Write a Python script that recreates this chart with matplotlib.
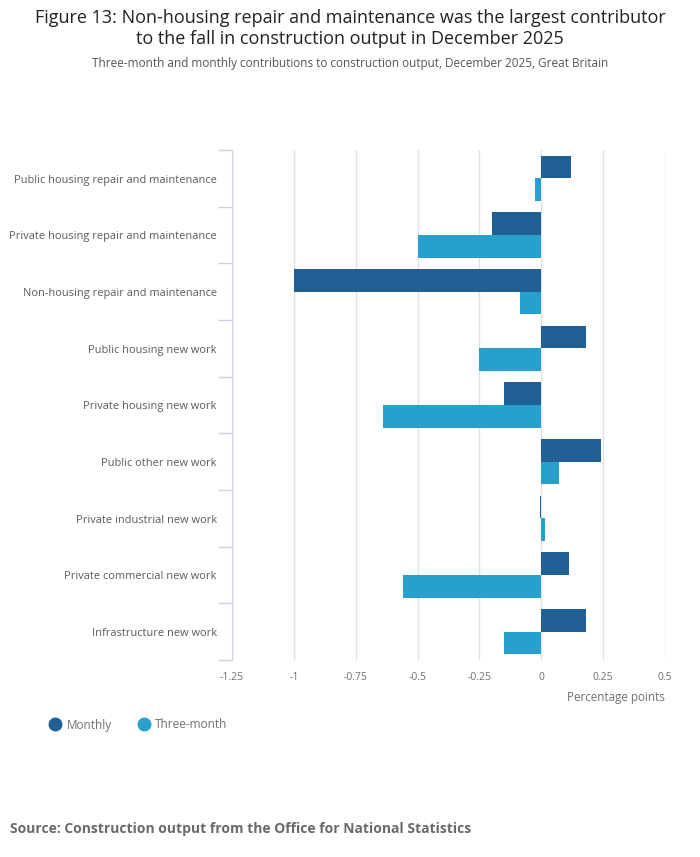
import numpy as np
import matplotlib.pyplot as plt
from matplotlib.lines import Line2D

plt.rcParams['font.family'] = ['Open Sans', 'DejaVu Sans']

categories = [
    "Public housing repair and maintenance",
    "Private housing repair and maintenance",
    "Non-housing repair and maintenance",
    "Public housing new work",
    "Private housing new work",
    "Public other new work",
    "Private industrial new work",
    "Private commercial new work",
    "Infrastructure new work",
]
monthly = [0.12, -0.2, -1.0, 0.18, -0.15, 0.24, -0.005, 0.11, 0.18]
three_month = [-0.025, -0.5, -0.085, -0.25, -0.64, 0.07, 0.015, -0.56, -0.15]
xticks = [-1.25, -1, -0.75, -0.5, -0.25, 0, 0.25, 0.5]
xtick_labels = ["-1.25", "-1", "-0.75", "-0.5", "-0.25", "0", "0.25", "0.5"]

dark = "#206095"
light = "#27a0cc"
grey = "#707070"

fig = plt.figure(figsize=(7, 8.57), dpi=100)
ax = fig.add_axes([232 / 700, 1 - 660 / 857, (665 - 232) / 700, (660 - 150) / 857])

y = np.arange(len(categories))
ax.barh(y - 0.2, monthly, height=0.4, color=dark, zorder=3)
ax.barh(y + 0.2, three_month, height=0.4, color=light, zorder=3)

ax.set_xlim(-1.25, 0.5)
ax.set_ylim(len(categories) - 0.5, -0.5)
ax.set_xticks(xticks)
ax.set_xticklabels(xtick_labels, color=grey, fontsize=7.5)
ax.tick_params(axis='x', length=0, pad=9)
ax.grid(axis='x', color="#e2e2e2", linewidth=1, zorder=0)

# category labels in the middle of each band, ticks at the band edges
ax.set_yticks(np.arange(len(categories) + 1) - 0.5)
ax.set_yticklabels([])
ax.tick_params(axis='y', length=10, color="#ccd3e4", width=1)
for i, name in enumerate(categories):
    ax.text(-0.035, i + 0.03, name, transform=ax.get_yaxis_transform(), ha='right', va='center',
            fontsize=7.9, color="#5a5a5a")

for s in ['top', 'right', 'bottom']:
    ax.spines[s].set_visible(False)
ax.spines['left'].set_color("#ccd3e4")

fig.text(665 / 700, 1 - 697 / 857, "Percentage points", ha='right', va='center', fontsize=8.4, color=grey)

fig.text(0.5, 1 - 18 / 857, "Figure 13: Non-housing repair and maintenance was the largest contributor",
         ha='center', va='center', fontsize=13, color="#222222")
fig.text(0.5, 1 - 39 / 857, "to the fall in construction output in December 2025",
         ha='center', va='center', fontsize=13, color="#222222")
fig.text(0.5, 1 - 64 / 857, "Three-month and monthly contributions to construction output, December 2025, Great Britain",
         ha='center', va='center', fontsize=8.5, color="#555555")

handles = [Line2D([], [], marker='o', linestyle='', markersize=9, color=dark),
           Line2D([], [], marker='o', linestyle='', markersize=9, color=light)]
leg = fig.legend(handles, ["Monthly", "Three-month"], loc='center left',
                 bbox_to_anchor=(37 / 700, 1 - 725 / 857), ncol=2, frameon=False,
                 fontsize=8.5, handletextpad=0.4, columnspacing=2.1, handlelength=1.2)
for t in leg.get_texts():
    t.set_color(grey)

fig.text(10 / 700, 1 - 829 / 857, "Source: Construction output from the Office for National Statistics",
         ha='left', va='center', fontsize=10, fontweight='bold', color="#6a6a6a")

fig.savefig("out.png", dpi=100)
